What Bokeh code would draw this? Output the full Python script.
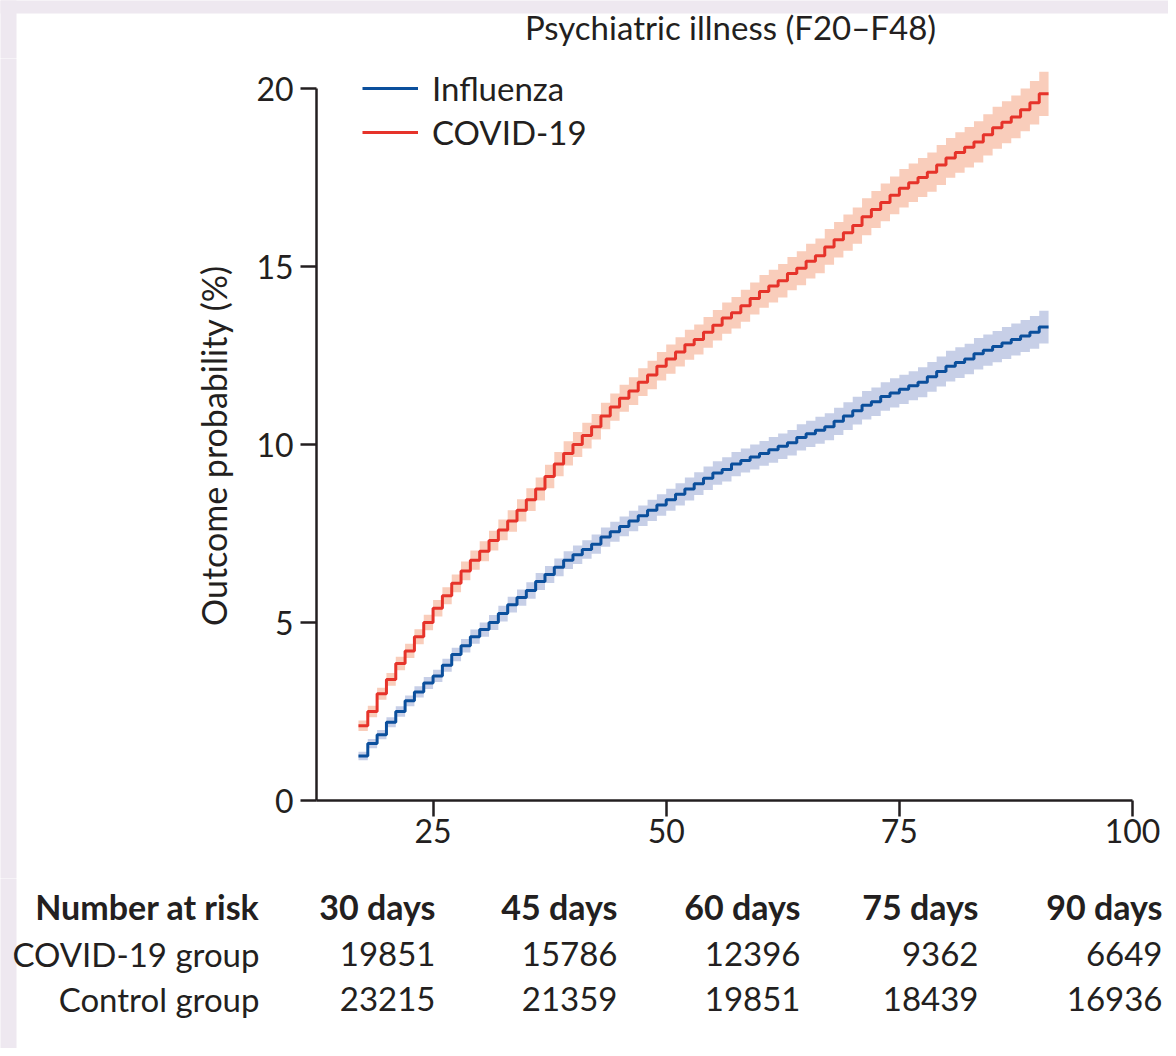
import math
from bokeh.plotting import figure
from bokeh.models import Range1d, FixedTicker, Legend, LegendItem
from bokeh.layouts import column, row
from bokeh.embed import file_html
from bokeh.resources import INLINE
from bokeh.core.properties import value

# ---------------- data ----------------
days = list(range(17, 91))

covid = [
    2.1, 2.5, 3.0, 3.4, 3.85, 4.2, 4.6, 5.0, 5.4, 5.75,
    6.1, 6.45, 6.75, 7.0, 7.3, 7.6, 7.85, 8.15, 8.45, 8.75,
    9.1, 9.45, 9.75, 10.0, 10.25, 10.5, 10.8, 11.05, 11.3, 11.5,
    11.75, 11.95, 12.2, 12.4, 12.6, 12.8, 12.95, 13.15, 13.35, 13.55,
    13.7, 13.9, 14.1, 14.3, 14.45, 14.6, 14.8, 14.95, 15.15, 15.3,
    15.55, 15.75, 15.95, 16.15, 16.4, 16.6, 16.8, 17.0, 17.2, 17.35,
    17.5, 17.65, 17.85, 18.05, 18.2, 18.35, 18.5, 18.7, 18.9, 19.05,
    19.2, 19.4, 19.6, 19.85,
]
covid_ci = [
    0.15, 0.16, 0.17, 0.18, 0.19, 0.20, 0.21, 0.22, 0.23, 0.24,
    0.25, 0.26, 0.27, 0.28, 0.28, 0.29, 0.30, 0.31, 0.32, 0.32,
    0.33, 0.34, 0.34, 0.35, 0.36, 0.36, 0.37, 0.38, 0.38, 0.39,
    0.39, 0.40, 0.40, 0.41, 0.41, 0.42, 0.42, 0.43, 0.43, 0.44,
    0.44, 0.45, 0.45, 0.46, 0.46, 0.47, 0.47, 0.48, 0.49, 0.49,
    0.50, 0.50, 0.51, 0.51, 0.52, 0.52, 0.53, 0.53, 0.54, 0.54,
    0.55, 0.55, 0.56, 0.56, 0.57, 0.57, 0.58, 0.58, 0.59, 0.59,
    0.60, 0.60, 0.61, 0.62,
]
influenza = [
    1.25, 1.6, 1.85, 2.2, 2.5, 2.8, 3.05, 3.3, 3.5, 3.8,
    4.1, 4.35, 4.6, 4.8, 5.0, 5.25, 5.5, 5.7, 5.9, 6.15,
    6.35, 6.55, 6.75, 6.9, 7.05, 7.2, 7.4, 7.55, 7.7, 7.85,
    8.0, 8.15, 8.3, 8.45, 8.6, 8.75, 8.9, 9.05, 9.2, 9.3,
    9.45, 9.55, 9.65, 9.75, 9.85, 9.95, 10.05, 10.2, 10.3, 10.4,
    10.5, 10.65, 10.8, 10.95, 11.1, 11.2, 11.35, 11.45, 11.55, 11.65,
    11.75, 11.9, 12.05, 12.2, 12.3, 12.4, 12.55, 12.65, 12.75, 12.85,
    12.95, 13.05, 13.15, 13.3,
]
influenza_ci = [
    0.12, 0.13, 0.13, 0.14, 0.15, 0.15, 0.16, 0.17, 0.17, 0.18,
    0.19, 0.19, 0.20, 0.20, 0.21, 0.22, 0.22, 0.23, 0.23, 0.24,
    0.24, 0.25, 0.25, 0.26, 0.26, 0.27, 0.27, 0.28, 0.28, 0.29,
    0.29, 0.30, 0.30, 0.31, 0.31, 0.32, 0.32, 0.33, 0.33, 0.34,
    0.34, 0.34, 0.35, 0.35, 0.36, 0.36, 0.36, 0.37, 0.37, 0.38,
    0.38, 0.38, 0.39, 0.39, 0.40, 0.40, 0.40, 0.41, 0.41, 0.41,
    0.42, 0.42, 0.42, 0.43, 0.43, 0.43, 0.44, 0.44, 0.44, 0.45,
    0.45, 0.45, 0.46, 0.46,
]

x_ticks = [25, 50, 75, 100]
y_ticks = [0, 5, 10, 15, 20]

title_text = "Psychiatric illness (F20\u2013F48)"
y_label = "Outcome probability (%)"

risk_header = "Number at risk"
risk_times = ["30 days", "45 days", "60 days", "75 days", "90 days"]
risk_groups = ["COVID-19 group", "Control group"]
risk_covid = ["19851", "15786", "12396", "9362", "6649"]
risk_control = ["23215", "21359", "19851", "18439", "16936"]

# ---------------- styling / layout (page pixels) ----------------
FONT = "Lato"
INK = "#231f20"
RED = "#e6332a"
RED_BAND = "#f9cdbb"
BLUE = "#0b4f9c"
BLUE_BAND = "#c7cfe7"
LAVENDER = "#eee8f0"

PAGE_W = 1168
LEFT_STRIP, TOP_STRIP = 16, 13
HEAD_BOTTOM = 58          # page y where the title strip ends
TABLE_TOP = 878           # page y where the table strip starts
PAGE_BOTTOM = 1048
LABEL_W = 246             # width of the y-label strip left of the plot
FRAME_L, FRAME_R, FRAME_B, FRAME_T = 316, 1132, 800, 60
PX_PER_UNIT = 35.6        # vertical scale: 0 at y=800, 20 at y=88
X0, X1 = 12.5, 100
Y_END = (FRAME_B - FRAME_T) / PX_PER_UNIT


def no_align(fig):
    try:
        fig.frame_align = False
    except Exception:
        pass


def text_strip(width, height, top_band=False):
    """A figure whose data coordinates are its own pixels (y downwards)."""
    f = figure(width=width, height=height, x_range=Range1d(0, width), y_range=Range1d(height, 0),
               output_backend="svg", toolbar_location=None,
               x_axis_location=None, y_axis_location=None, min_border=0)
    f.grid.visible = False
    f.outline_line_color = None
    f.border_fill_color = "white"
    f.background_fill_color = "white"
    no_align(f)
    # lavender page edge (left, and top for the first strip)
    f.quad(left=[-2], right=[LEFT_STRIP], top=[-2], bottom=[height + 2],
           fill_color=LAVENDER, line_color=None)
    if top_band:
        f.quad(left=[-2], right=[width + 2], top=[-2], bottom=[TOP_STRIP],
               fill_color=LAVENDER, line_color=None)
    return f


# ---- title strip ----
head = text_strip(PAGE_W, HEAD_BOTTOM, top_band=True)
head.text(x=[730], y=[26], text=[title_text],
          text_font=value(FONT), text_font_size="33px", text_color=INK,
          text_align="center", text_baseline="middle")

# ---- y-axis label strip ----
PH = TABLE_TOP - HEAD_BOTTOM
lab = text_strip(LABEL_W, PH)
lab.text(x=[213], y=[445 - HEAD_BOTTOM], text=[y_label], angle=math.pi / 2,
         text_font=value(FONT), text_font_size="34px", text_color=INK,
         text_align="center", text_baseline="middle")

# ---- main plot ----
p = figure(
    width=PAGE_W - LABEL_W, height=PH,
    x_range=Range1d(X0, X1), y_range=Range1d(0, Y_END),
    output_backend="svg", toolbar_location=None,
    min_border_left=FRAME_L - LABEL_W,
    min_border_right=PAGE_W - FRAME_R,
    min_border_top=FRAME_T - HEAD_BOTTOM,
    min_border_bottom=TABLE_TOP - FRAME_B,
)
no_align(p)
p.grid.visible = False
p.outline_line_color = None
p.background_fill_color = "white"
p.border_fill_color = "white"


def steps(vals):
    return days + [days[-1] + 1], vals + [vals[-1]]


for vals, ci, band in ((influenza, influenza_ci, BLUE_BAND), (covid, covid_ci, RED_BAND)):
    xs, ys = steps(vals)
    _, hs = steps(ci)
    p.varea_step(x=xs, y1=[a - b for a, b in zip(ys, hs)], y2=[a + b for a, b in zip(ys, hs)],
                 step_mode="after", fill_color=band, fill_alpha=1.0)

xs, ys = steps(influenza)
r_flu = p.step(xs, ys, mode="after", line_color=BLUE, line_width=3)
xs, ys = steps(covid)
r_cov = p.step(xs, ys, mode="after", line_color=RED, line_width=3)

for ax in (p.xaxis[0], p.yaxis[0]):
    ax.axis_line_color = INK
    ax.axis_line_width = 2.5
    ax.major_tick_line_color = INK
    ax.major_tick_line_width = 2.5
    ax.major_tick_in = 0
    ax.major_tick_out = 16
    ax.minor_tick_line_color = None
    ax.major_label_text_font = FONT
    ax.major_label_text_font_size = "32px"
    ax.major_label_text_color = INK

p.xaxis.ticker = FixedTicker(ticks=x_ticks)
p.xaxis.bounds = (X0, X1)
p.xaxis.major_label_standoff = 2
p.yaxis.ticker = FixedTicker(ticks=y_ticks)
p.yaxis.bounds = (0, 20)
p.yaxis.major_label_standoff = 7

# legend: two rows centred at page y 88 and 132, line from x 362
LEG_ROW = 44
legend = Legend(
    items=[LegendItem(label="Influenza", renderers=[r_flu]),
           LegendItem(label="COVID-19", renderers=[r_cov])],
    location=(362 - FRAME_L, FRAME_B - (88 - LEG_ROW / 2 + 2 * LEG_ROW)),
    padding=0, margin=0, spacing=0,
    glyph_width=56, glyph_height=LEG_ROW, label_height=LEG_ROW, label_standoff=14,
    label_text_font=FONT, label_text_font_size="33px", label_text_color=INK,
    border_line_color=None, background_fill_alpha=0,
)
p.add_layout(legend)

# ---- number-at-risk table strip ----
t = text_strip(PAGE_W, PAGE_BOTTOM - TABLE_TOP)
label_right = 259
col_right = [435, 617, 800, 978, 1162]
row_y = [r - TABLE_TOP for r in (906, 953, 998)]

bold = dict(text_font=value(FONT), text_font_size="34px", text_color=INK,
            text_align="right", text_baseline="middle", text_font_style="bold")
plain = dict(text_font=value(FONT), text_font_size="33px", text_color=INK,
             text_align="right", text_baseline="middle")
t.text(x=[label_right], y=[row_y[0]], text=[risk_header], **bold)
t.text(x=col_right, y=[row_y[0]] * len(col_right), text=risk_times, **bold)
t.text(x=[label_right] * len(risk_groups), y=row_y[1:], text=risk_groups, **plain)
t.text(x=col_right, y=[row_y[1]] * len(col_right), text=risk_covid, **plain)
t.text(x=col_right, y=[row_y[2]] * len(col_right), text=risk_control, **plain)

layout = column(head, row(lab, p), t)

open("out.html", "w").write(file_html(layout, INLINE))
